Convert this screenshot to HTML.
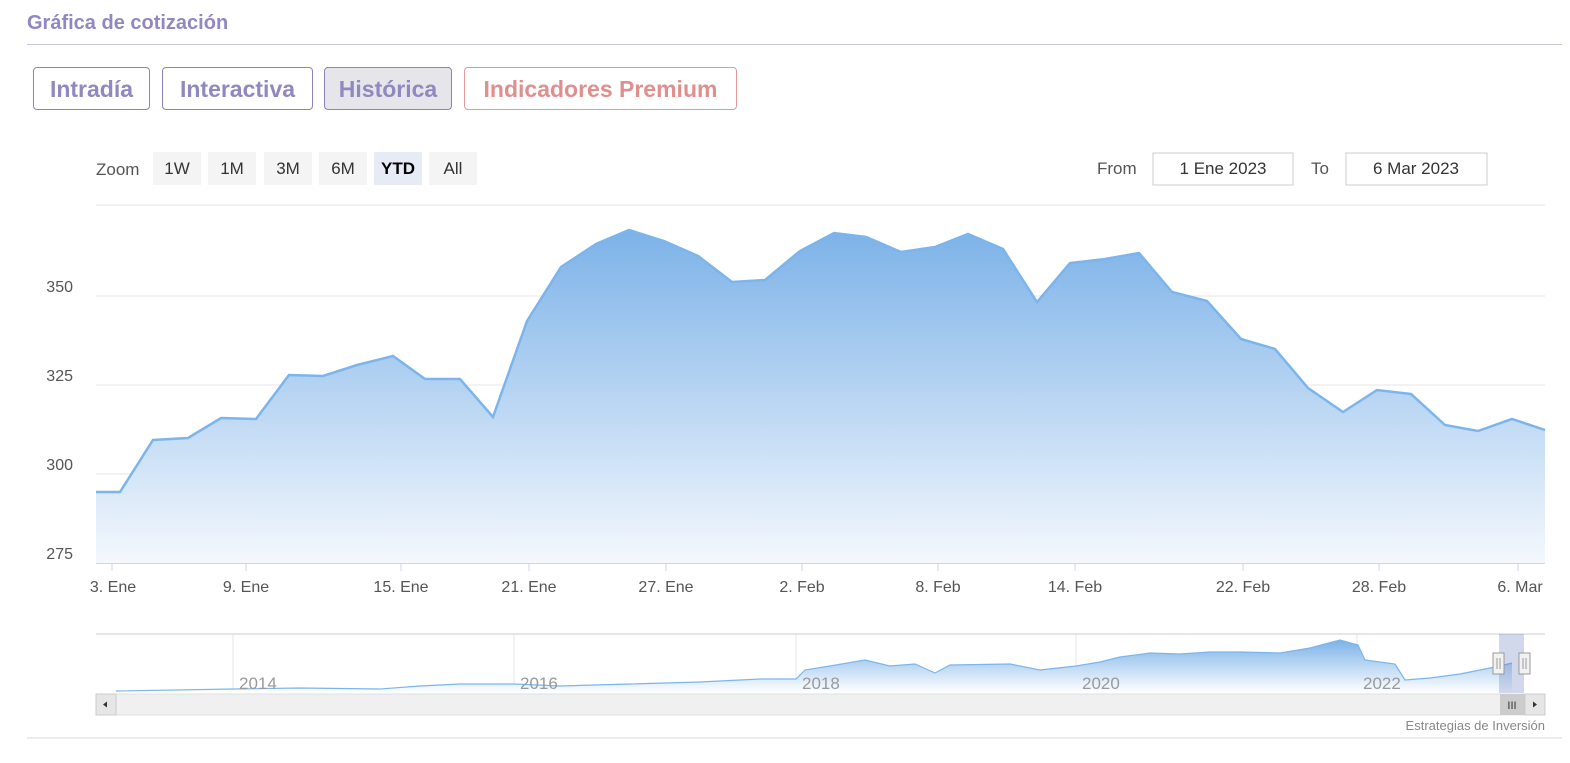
<!DOCTYPE html>
<html><head><meta charset="utf-8"><style>
body{margin:0;background:#fff;width:1570px;height:763px;overflow:hidden;font-family:"Liberation Sans",sans-serif}
.t{position:absolute;left:27px;top:12px;font-size:20px;font-weight:bold;color:#9088c0}
.hr{position:absolute;left:27px;right:8px;top:44px;border-top:1px solid #c8c6dc}
.b{position:absolute;top:67px;height:41px;border:1px solid #8a85b8;border-radius:4px;font-size:23px;font-weight:bold;color:#9088c0;line-height:43px;text-align:center;box-sizing:content-box}
</style></head><body>
<div class="t">Gráfica de cotización</div>
<div class="hr"></div>
<div class="b" style="left:33px;width:115px">Intradía</div>
<div class="b" style="left:162px;width:149px">Interactiva</div>
<div class="b" style="left:324px;width:126px;background:#e6e6ea">Histórica</div>
<div class="b" style="left:464px;width:271px;border-color:#e09a9a;color:#e08f8f">Indicadores Premium</div>
<svg width="1570" height="763" style="position:absolute;left:0;top:0" font-family="Liberation Sans, sans-serif">
<defs><linearGradient id="g" x1="0" y1="0" x2="0" y2="1"><stop offset="0" stop-color="#7cb2e8"/><stop offset="1" stop-color="#f4f8fd"/></linearGradient>
<linearGradient id="g2" x1="0" y1="0" x2="0" y2="1"><stop offset="0" stop-color="#7cb2e8"/><stop offset="1" stop-color="#fff"/></linearGradient></defs>
<text x="96" y="175" font-size="17" fill="#555">Zoom</text>
<g font-size="17" fill="#333" text-anchor="middle">
<rect x="153" y="152" width="48" height="33" fill="#f4f4f4"/><text x="177" y="174">1W</text>
<rect x="208" y="152" width="48" height="33" fill="#f4f4f4"/><text x="232" y="174">1M</text>
<rect x="264" y="152" width="48" height="33" fill="#f4f4f4"/><text x="288" y="174">3M</text>
<rect x="319" y="152" width="48" height="33" fill="#f4f4f4"/><text x="343" y="174">6M</text>
<rect x="374" y="152" width="48" height="33" fill="#e6ebf5"/><text x="398" y="174" font-weight="bold" fill="#000">YTD</text>
<rect x="429" y="152" width="48" height="33" fill="#f4f4f4"/><text x="453" y="174">All</text>
</g>
<text x="1097" y="174" font-size="17" fill="#555">From</text>
<rect x="1153" y="153" width="140" height="32" fill="#fff" stroke="#ccc"/>
<text x="1223" y="174" font-size="17" fill="#333" text-anchor="middle">1 Ene 2023</text>
<text x="1311" y="174" font-size="17" fill="#555">To</text>
<rect x="1346" y="153" width="141" height="32" fill="#fff" stroke="#ccc"/>
<text x="1416" y="174" font-size="17" fill="#333" text-anchor="middle">6 Mar 2023</text>
<g stroke="#e6e6e6"><line x1="96" y1="205" x2="1545" y2="205"/><line x1="96" y1="296" x2="1545" y2="296"/><line x1="96" y1="385" x2="1545" y2="385"/><line x1="96" y1="474" x2="1545" y2="474"/></g>
<g font-size="16" fill="#555" text-anchor="end"><text x="73" y="292">350</text><text x="73" y="381">325</text><text x="73" y="470">300</text><text x="73" y="559">275</text></g>
<path d="M96,492 L120,492 153,440 188,438 221,418 256,419 289,375 323,376 357,365 393,356 425,379 460,379 493,417 527,321 561,267 596,244 629,230 664,241 698,256 732,282 765,280 800,251 834,233 866,237 901,252 935,247 968,234 1003,249 1037,302 1070,263 1105,259 1139,253 1172,292 1207,301 1241,339 1275,349 1308,388 1343,412 1377,390 1411,394 1445,425 1478,431 1512,419 1545,430 L1545,563 L96,563Z" fill="url(#g)"/>
<polyline points="96,492 120,492 153,440 188,438 221,418 256,419 289,375 323,376 357,365 393,356 425,379 460,379 493,417 527,321 561,267 596,244 629,230 664,241 698,256 732,282 765,280 800,251 834,233 866,237 901,252 935,247 968,234 1003,249 1037,302 1070,263 1105,259 1139,253 1172,292 1207,301 1241,339 1275,349 1308,388 1343,412 1377,390 1411,394 1445,425 1478,431 1512,419 1545,430" fill="none" stroke="#7cb5ec" stroke-width="2.5"/>
<line x1="96" y1="563.5" x2="1545" y2="563.5" stroke="#ccd6eb"/>
<g stroke="#ccd6eb"><line x1="112" y1="563" x2="112" y2="571"/><line x1="246" y1="563" x2="246" y2="571"/><line x1="401" y1="563" x2="401" y2="571"/><line x1="529" y1="563" x2="529" y2="571"/><line x1="666" y1="563" x2="666" y2="571"/><line x1="802" y1="563" x2="802" y2="571"/><line x1="938" y1="563" x2="938" y2="571"/><line x1="1075" y1="563" x2="1075" y2="571"/><line x1="1243" y1="563" x2="1243" y2="571"/><line x1="1379" y1="563" x2="1379" y2="571"/><line x1="1518" y1="563" x2="1518" y2="571"/></g>
<g font-size="16" fill="#555" text-anchor="middle"><text x="113" y="592">3. Ene</text><text x="246" y="592">9. Ene</text><text x="401" y="592">15. Ene</text><text x="529" y="592">21. Ene</text><text x="666" y="592">27. Ene</text><text x="802" y="592">2. Feb</text><text x="938" y="592">8. Feb</text><text x="1075" y="592">14. Feb</text><text x="1243" y="592">22. Feb</text><text x="1379" y="592">28. Feb</text><text x="1520" y="592">6. Mar</text></g>
<line x1="96" y1="634" x2="1545" y2="634" stroke="#ccc"/>
<g stroke="#e6e6e6"><line x1="233" y1="634" x2="233" y2="693"/><line x1="514" y1="634" x2="514" y2="693"/><line x1="796" y1="634" x2="796" y2="693"/><line x1="1076" y1="634" x2="1076" y2="693"/><line x1="1357" y1="634" x2="1357" y2="693"/></g>
<path d="M116,691 L233,689 300,688 380,689 420,686 460,684 514,684 560,686 630,684 700,682 760,679 796,679 805,670 830,666 865,660 890,666 915,664 935,673 950,665 1010,664 1040,670 1076,666 1100,662 1120,657 1150,653 1180,654 1210,652 1240,652 1280,653 1310,648 1340,640 1358,645 1365,660 1395,664 1405,680 1430,678 1460,674 1480,670 1500,666 1512,663 L1512,693 L116,693Z" fill="url(#g2)"/>
<polyline points="116,691 233,689 300,688 380,689 420,686 460,684 514,684 560,686 630,684 700,682 760,679 796,679 805,670 830,666 865,660 890,666 915,664 935,673 950,665 1010,664 1040,670 1076,666 1100,662 1120,657 1150,653 1180,654 1210,652 1240,652 1280,653 1310,648 1340,640 1358,645 1365,660 1395,664 1405,680 1430,678 1460,674 1480,670 1500,666 1512,663" fill="none" stroke="#7cb5ec" stroke-width="1.2"/>
<g font-size="17" fill="#999"><text x="239" y="689">2014</text><text x="520" y="689">2016</text><text x="802" y="689">2018</text><text x="1082" y="689">2020</text><text x="1363" y="689">2022</text></g>
<rect x="1499" y="634" width="25" height="59" fill="#667fc0" opacity="0.3"/>
<rect x="96" y="694" width="1449" height="21" fill="#f0f0f0" stroke="#e0e0e0"/>
<rect x="96" y="694" width="20" height="21" fill="#e6e6e6" stroke="#ccc"/><path d="M103,704.5 l4,-3 v6z" fill="#333"/>
<rect x="1500" y="694" width="25" height="21" fill="#ccc"/>
<text x="1512" y="709" font-size="11" fill="#333" text-anchor="middle">III</text>
<rect x="1525" y="694" width="20" height="21" fill="#e6e6e6" stroke="#ccc"/><path d="M1537,704.5 l-4,-3 v6z" fill="#333"/>
<rect x="1493" y="653" width="11" height="21" fill="#f2f2f2" stroke="#999"/><path d="M1497,658v11M1500,658v11" stroke="#999"/>
<rect x="1519" y="653" width="11" height="21" fill="#f2f2f2" stroke="#999"/><path d="M1523,658v11M1526,658v11" stroke="#999"/>
<text x="1545" y="730" font-size="13" fill="#888" text-anchor="end">Estrategias de Inversión</text>
<line x1="27" y1="738" x2="1562" y2="738" stroke="#d8d8e0"/>
</svg>
</body></html>
